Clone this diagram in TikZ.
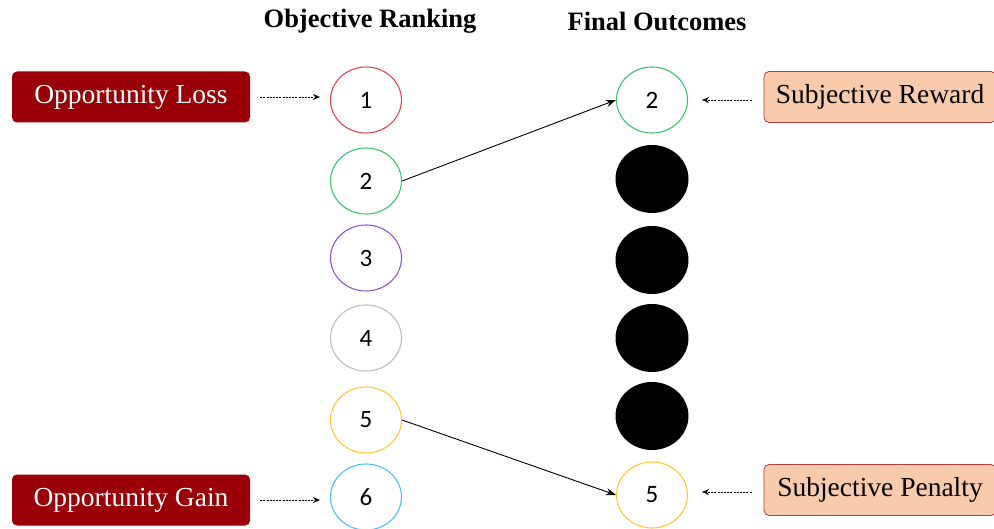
\documentclass[tikz,border=0pt]{standalone}
\usepackage{fontspec}
\setmainfont{Liberation Serif}
\newfontfamily\numfont{Carlito}
\usepackage{tikz}
\usetikzlibrary{shapes.geometric, arrows.meta}

\definecolor{lossred}{HTML}{990008}
\definecolor{salmon}{HTML}{F8CBAD}
\definecolor{salmonedge}{HTML}{B83A3A}
\definecolor{cOne}{HTML}{E0474C}
\definecolor{cTwo}{HTML}{3CC46E}
\definecolor{cThree}{HTML}{8E5CC0}
\definecolor{cFour}{HTML}{BDBDBD}
\definecolor{cFive}{HTML}{FFC83A}
\definecolor{cSix}{HTML}{4EC0F2}

\tikzset{
	rankcirc/.style = {ellipse, draw, line width = 1.1pt, minimum width = 71, minimum height = 66, inner sep = 0pt, font = \numfont\fontsize{25}{28}\selectfont},
	hidecirc/.style = {ellipse, fill = black, minimum width = 73, minimum height = 68, inner sep = 0pt},
	darkbox/.style = {rectangle, rounded corners = 5pt, fill = lossred, text = white, minimum width = 238, minimum height = 51, font = \fontsize{27.5}{31}\selectfont},
	lightbox/.style = {rectangle, rounded corners = 5pt, fill = salmon, draw = salmonedge, line width = 0.8pt, minimum width = 232, minimum height = 51, font = \fontsize{27.5}{31}\selectfont},
	heading/.style = {font = \bfseries\fontsize{26.5}{30}\selectfont},
	dasharrow/.style = {-{Stealth[length = 7pt, width = 6pt]}, line width = 0.8pt, dash pattern = on 2pt off 1.2pt},
	linkarrow/.style = {-{Stealth[length = 10pt, width = 7pt]}, line width = 0.9pt}
}

\begin{document}
\begin{tikzpicture}[x = 1pt, y = -1pt]
			\useasboundingbox (0,0) rectangle (994,529);

			% column headings
			\node [heading] (hobj) at (370,21) {Objective Ranking};
			\node [heading] (hfin) at (657,21) {Final Outcomes};

			% objective ranking
			\foreach \n/\y/\c in {1/100/cOne, 2/181/cTwo, 3/258/cThree, 4/338/cFour, 5/420/cFive, 6/497/cSix}
				\node [rankcirc, draw = \c] (l\n) at (366,\y) {\n};

			% final outcomes
			\node [rankcirc, draw = cTwo] (r2) at (652,100) {2};
			\foreach \k/\y in {a/179, b/260, c/338, d/416}
				\node [hidecirc] (h\k) at (652,\y) {};
			\node [rankcirc, draw = cFive] (r5) at (652,495) {5};

			% side labels
			\node [darkbox] (loss) at (131,97) {Opportunity Loss};
			\node [darkbox] (gain) at (131,500) {Opportunity Gain};
			\node [lightbox] (reward) at (880,97) {Subjective Reward};
			\node [lightbox] (penalty) at (880,490) {Subjective Penalty};

			\begin{scope}[dasharrow]
				\draw ([xshift = 10]loss.east) -- ([xshift = -10]loss.east -| l1.west);
				\draw ([xshift = 10]gain.east) -- ([xshift = -10]gain.east -| l6.west);
				\draw ([xshift = -12, yshift = -3]reward.west) -- ([xshift = 14, yshift = -3]reward.west -| r2.east);
				\draw ([xshift = -12, yshift = -2]penalty.west) -- ([xshift = 14, yshift = -2]penalty.west -| r5.east);
			\end{scope}

			\begin{scope}[linkarrow]
				\draw (l2.east) -- (r2.west);
				\draw (l5.east) -- (r5.west);
			\end{scope}
		\end{tikzpicture}
\end{document}
